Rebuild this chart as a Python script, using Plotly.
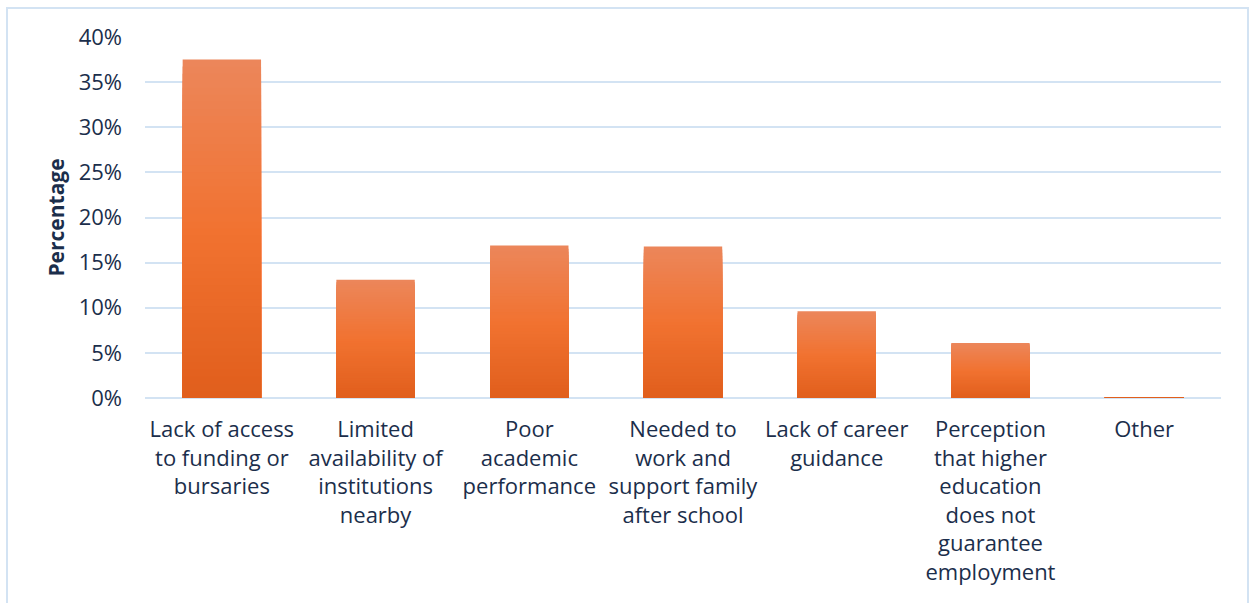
import plotly.graph_objects as go

# Reasons for not pursuing higher education (share of respondents)
categories = [
    "Lack of access<br>to funding or<br>bursaries",
    "Limited<br>availability of<br>institutions<br>nearby",
    "Poor<br>academic<br>performance",
    "Needed to<br>work and<br>support family<br>after school",
    "Lack of career<br>guidance",
    "Perception<br>that higher<br>education<br>does not<br>guarantee<br>employment",
    "Other",
]
percentages = [37.5, 13.1, 16.9, 16.8, 9.6, 6.1, 0.1]
y_ticks = [0, 5, 10, 15, 20, 25, 30, 35, 40]
y_tick_labels = [f"{t}%" for t in y_ticks]

# Vertical gradient stops for the bar fill (0 = bottom, 1 = top)
grad_stops = [(0.0, (224, 94, 28)), (0.5, (241, 114, 48)), (1.0, (236, 134, 90))]


def grad_color(t):
    for (t0, c0), (t1, c1) in zip(grad_stops[:-1], grad_stops[1:]):
        if t0 <= t <= t1:
            f = (t - t0) / (t1 - t0)
            c = [round(a + (b - a) * f) for a, b in zip(c0, c1)]
            return f"rgb({c[0]},{c[1]},{c[2]})"
    return "rgb(236,134,90)"


fig = go.Figure()

# Overlaid bars of decreasing height build a per-bar vertical gradient
n_steps = 48
for k in range(n_steps):
    frac = 1 - k / n_steps
    fig.add_trace(go.Bar(
        x=categories,
        y=[v * frac for v in percentages],
        marker=dict(color=grad_color(frac), line=dict(width=0)),
        showlegend=False,
        hoverinfo="skip" if k else None,
        hovertemplate="%{x}: %{y:.1f}%<extra></extra>" if k == 0 else None,
    ))

text_color = "#1B2E4B"
grid_color = "#D3E3F3"

fig.update_layout(
    barmode="overlay",
    bargap=0.49,
    width=1249,
    height=603,
    margin=dict(l=145, r=28, t=37, b=205),
    paper_bgcolor="white",
    plot_bgcolor="white",
    font=dict(family="Open Sans, Lato, sans-serif", color=text_color, size=22),
    xaxis=dict(
        showgrid=False,
        showline=False,
        ticks="",
        ticklabelstandoff=16,
        tickfont=dict(size=22, color=text_color),
        fixedrange=True,
    ),
    yaxis=dict(
        range=[0, 40],
        tickvals=y_ticks,
        ticktext=y_tick_labels,
        showgrid=True,
        gridcolor=grid_color,
        gridwidth=2,
        zeroline=True,
        zerolinecolor=grid_color,
        zerolinewidth=2,
        showline=False,
        ticks="",
        ticklabelstandoff=22,
        tickfont=dict(size=22, color=text_color),
        title=dict(
            text="<b>Percentage</b>",
            font=dict(size=21, color=text_color),
            standoff=8,
        ),
        fixedrange=True,
    ),
    shapes=[
        dict(
            type="rect",
            xref="paper", yref="paper",
            x0=(7 - 145) / 1076, x1=(1248 - 145) / 1076,
            y0=(398 - 640) / 361, y1=1 + (37 - 8) / 361,
            line=dict(color=grid_color, width=2),
            fillcolor="rgba(0,0,0,0)",
            layer="below",
        )
    ],
)

fig.write_html("out.html")
